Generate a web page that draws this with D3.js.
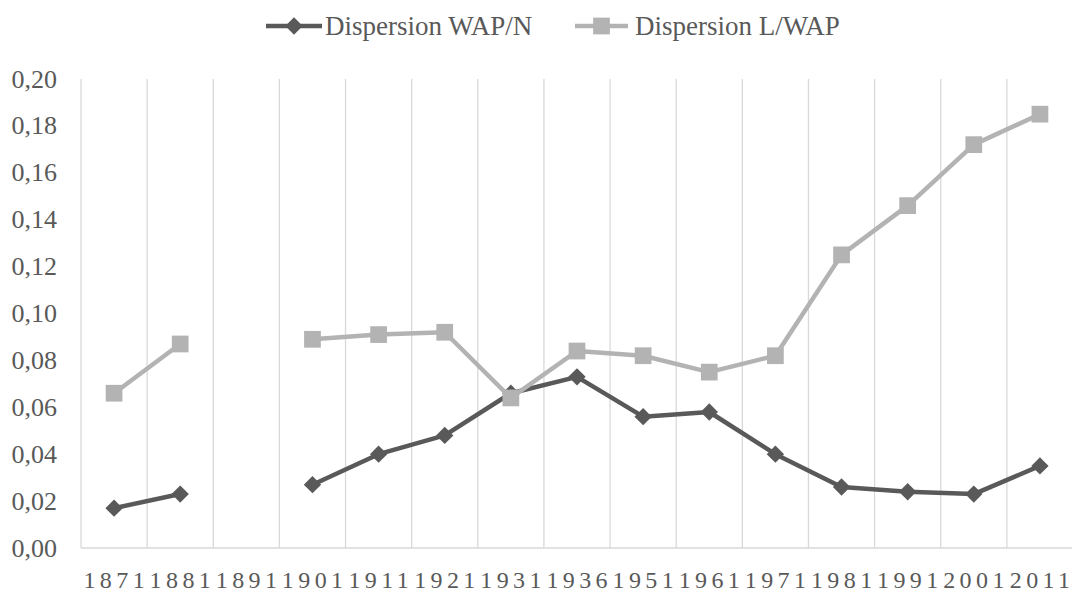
<!DOCTYPE html>
<html>
<head>
<meta charset="utf-8">
<script src="https://cdn.jsdelivr.net/npm/d3@7"></script>
<style>
  body { margin: 0; background: #fff; }
  svg { display: block; }
</style>
</head>
<body>
<svg id="chart" width="1072" height="593" font-family="'Liberation Serif', 'DejaVu Serif', serif"></svg>
<script>
const categories = ["1871","1881","1891","1901","1911","1921","1931","1936","1951","1961","1971","1981","1991","2001","2011"];
const seriesNames = ["Dispersion WAP/N", "Dispersion L/WAP"];
const wapN = [0.017, 0.023, null, 0.027, 0.040, 0.048, 0.066, 0.073, 0.056, 0.058, 0.040, 0.026, 0.024, 0.023, 0.035];
const lWap = [0.066, 0.087, null, 0.089, 0.091, 0.092, 0.064, 0.084, 0.082, 0.075, 0.082, 0.125, 0.146, 0.172, 0.185];
const yTicks = [0, 0.02, 0.04, 0.06, 0.08, 0.10, 0.12, 0.14, 0.16, 0.18, 0.20];

(function () {
const svg = d3.select("#chart");
const FONT = "'Liberation Serif', 'DejaVu Serif', serif";
const textColor = "#595959";
const pLeft = 81, pRight = 1073, pTop = 79, pBottom = 548;

const x = d3.scaleBand().domain(categories).range([pLeft, pRight]).padding(0);
const y = d3.scaleLinear().domain([0, 0.2]).range([pBottom, pTop]);

svg.append("g").selectAll("line")
  .data(categories.slice(1))
  .join("line")
  .attr("x1", d => x(d)).attr("x2", d => x(d))
  .attr("y1", pTop).attr("y2", pBottom)
  .attr("stroke", "#d9d9d9").attr("stroke-width", 1.3);

svg.append("line").attr("x1", pLeft).attr("x2", pLeft).attr("y1", pTop).attr("y2", pBottom)
  .attr("stroke", "#d9d9d9").attr("stroke-width", 1.3);
svg.append("line").attr("x1", pLeft).attr("x2", pRight).attr("y1", pBottom).attr("y2", pBottom)
  .attr("stroke", "#d9d9d9").attr("stroke-width", 1.5);

const fmt = v => d3.format(".2f")(v).replace(".", ",");
svg.append("g").selectAll("text")
  .data(yTicks)
  .join("text")
  .attr("x", 57).attr("y", d => y(d) + 8.5)
  .attr("text-anchor", "end")
  .attr("font-family", FONT)
  .attr("fill", textColor)
  .attr("font-size", 26)
  .text(fmt);

const gap = 4.4;
svg.append("g").selectAll("text")
  .data(categories)
  .join("text")
  .attr("x", d => x(d) + x.bandwidth() / 2)
  .attr("y", 588)
  .attr("text-anchor", "middle")
  .attr("font-family", FONT)
  .attr("fill", textColor)
  .attr("font-size", 24)
  .attr("dx", d => d.split("").map((c, i) => i === 0 ? 0 : gap).join(" "))
  .text(d => d);

const cx = i => x(categories[i]) + x.bandwidth() / 2;
const lineGen = d3.line()
  .defined(d => d != null)
  .x((d, i) => cx(i))
  .y(d => y(d));

const darkColor = "#595959", lightColor = "#b3b3b3";

function drawLine(data, color) {
  svg.append("path")
    .datum(data)
    .attr("fill", "none")
    .attr("stroke", color)
    .attr("stroke-width", 4.5)
    .attr("stroke-linejoin", "round")
    .attr("d", lineGen);
}
function drawMarkers(data, color, shape) {
  const pts = data.map((v, i) => ({ v, i })).filter(d => d.v != null);
  const sym = d3.symbol().type(d3.symbolSquare).size(shape === "diamond" ? 150 : 280);
  svg.append("g").selectAll("path")
    .data(pts)
    .join("path")
    .attr("d", sym)
    .attr("transform", d => `translate(${cx(d.i)},${y(d.v)})` + (shape === "diamond" ? " rotate(45)" : ""))
    .attr("fill", color);
}

drawLine(wapN, darkColor);
drawMarkers(wapN, darkColor, "diamond");
drawLine(lWap, lightColor);
drawMarkers(lWap, lightColor, "square");

const legend = [
  { name: seriesNames[0], color: darkColor, shape: "diamond", x0: 266, x1: 322, tx: 325 },
  { name: seriesNames[1], color: lightColor, shape: "square", x0: 575, x1: 628, tx: 635 }
];
const lg = svg.append("g");
legend.forEach(l => {
  lg.append("line").attr("x1", l.x0).attr("x2", l.x1).attr("y1", 26).attr("y2", 26)
    .attr("stroke", l.color).attr("stroke-width", 4.5);
  lg.append("path")
    .attr("d", d3.symbol().type(d3.symbolSquare).size(l.shape === "diamond" ? 150 : 280))
    .attr("transform", `translate(${(l.x0 + l.x1) / 2},26)` + (l.shape === "diamond" ? " rotate(45)" : ""))
    .attr("fill", l.color);
  lg.append("text").attr("x", l.tx).attr("y", 35)
    .attr("font-family", FONT).attr("fill", textColor)
    .attr("font-size", 27).text(l.name);
});
})();
</script>
</body>
</html>
